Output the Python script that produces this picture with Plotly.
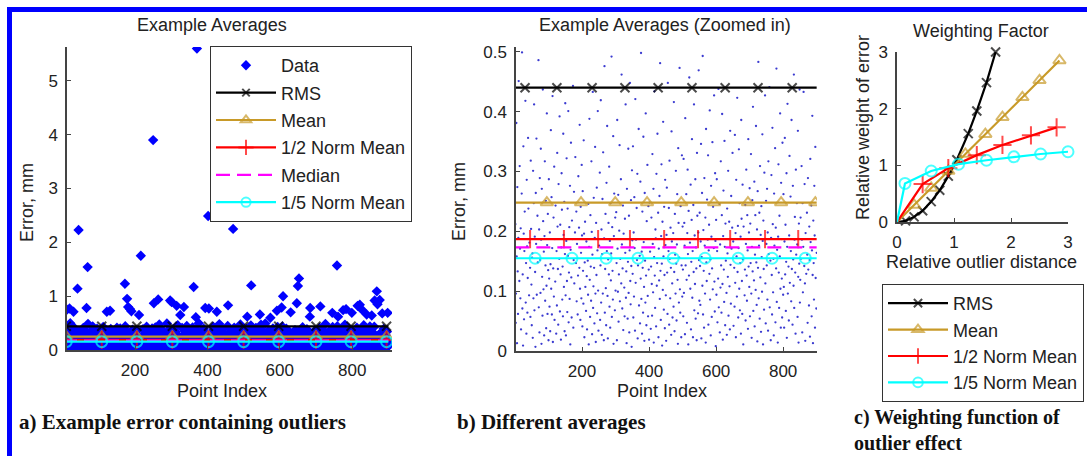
import plotly.graph_objects as go

W, H = 1087, 456

# ---------------- data ----------------
# bulk error values (thousandths of mm) for point index 1..900
err_thousandths = [
212,47,96,381,158,13,274,133,62,189,451,24,117,309,171,88,205,36,142,263,499,71,128,9,342,196,53,167,233,102,418,81,147,29,286,175,64,122,356,238,17,93,181,472,139,57,318,204,111,43,
156,163,22,301,88,247,412,68,191,132,7,264,179,355,94,41,226,148,119,486,73,203,31,289,152,97,338,186,12,271,124,59,437,217,103,166,26,192,317,84,143,251,38,109,397,177,62,229,135,18,
287,121,74,198,33,145,369,104,257,61,172,426,15,138,223,91,308,52,187,116,243,461,29,167,76,331,208,137,44,279,98,154,392,66,211,128,19,173,297,236,86,141,58,363,194,107,249,33,162,414,
93,26,184,322,117,65,238,159,401,48,131,207,87,276,11,169,348,123,56,218,187,97,443,39,152,266,113,71,198,324,24,147,233,83,179,507,61,126,292,14,206,139,378,104,52,241,164,88,311,193,
41,267,134,79,352,196,23,148,216,107,459,67,183,125,36,298,151,94,246,11,174,388,119,57,227,141,84,317,199,28,161,433,72,108,256,139,46,189,341,96,15,214,127,273,63,168,401,101,34,232,
176,111,298,52,143,419,81,203,27,162,254,96,332,131,18,188,476,64,137,229,105,43,281,167,376,92,21,153,214,128,308,74,184,39,247,118,163,492,57,207,134,86,359,12,192,263,146,68,223,101,
63,232,147,18,386,171,99,261,49,128,201,344,83,154,26,287,113,462,178,71,138,243,35,196,319,106,58,221,164,412,89,133,13,271,187,54,149,338,97,226,31,168,448,117,78,252,142,7,302,185,
129,342,56,198,91,257,172,34,421,114,186,67,239,152,296,21,143,103,371,76,208,159,46,283,121,498,87,166,29,233,139,64,358,182,107,17,264,151,81,397,126,43,217,174,311,92,58,242,136,19,
248,82,166,403,37,141,223,112,59,329,179,98,271,14,157,434,126,72,203,188,41,296,109,147,363,66,231,23,171,118,259,87,481,134,52,192,312,146,9,216,102,383,158,69,241,127,38,286,177,93,
17,194,273,131,62,448,108,167,239,44,318,154,88,206,139,27,367,183,113,56,254,197,74,416,132,33,229,161,96,301,146,51,178,262,119,12,339,214,81,156,473,103,64,242,187,23,143,327,91,208,
136,58,321,97,214,176,28,389,143,81,262,119,47,197,303,162,11,234,126,457,73,181,104,278,36,149,219,354,89,167,23,244,132,412,68,193,112,287,54,173,138,18,331,226,101,63,198,469,152,84,
231,142,77,183,346,21,157,264,109,493,61,202,134,39,289,176,96,223,14,371,148,117,253,71,186,327,44,168,211,129,402,86,153,26,276,191,57,138,349,103,241,32,172,427,116,66,297,184,8,219,
94,287,167,48,203,121,438,73,159,246,31,178,106,317,143,64,227,396,112,19,192,268,136,82,351,174,43,213,151,478,97,27,238,163,124,301,59,187,216,108,36,368,144,79,259,171,13,206,331,127,
183,42,256,139,74,361,114,197,23,286,158,91,423,132,209,56,172,337,104,247,68,147,191,29,386,221,117,62,278,153,11,208,164,452,93,136,244,51,179,303,126,84,227,168,37,354,141,198,107,272,
58,213,147,329,96,22,174,252,133,408,67,189,118,283,41,161,227,102,376,148,77,203,16,267,139,483,88,176,231,54,309,123,194,32,242,157,99,362,184,11,218,137,69,298,166,427,113,46,251,179,
143,271,86,198,34,317,162,109,441,73,227,151,18,189,294,127,61,373,212,98,154,26,263,176,117,339,48,206,138,472,82,169,243,14,191,312,131,72,226,158,397,104,39,281,187,121,56,348,173,94,
262,107,39,183,356,128,211,67,149,297,22,174,413,96,236,141,51,193,326,114,17,258,167,83,386,137,201,44,276,153,109,462,72,186,224,131,29,303,161,92,247,178,57,368,124,14,213,146,437,81,
119,223,154,68,309,186,31,247,98,174,433,61,142,279,113,17,197,352,129,83,231,161,47,289,136,504,76,208,152,24,321,182,107,243,58,168,393,127,13,218,147,86,276,193,39,341,122,233,71,164,
]
# outliers (point index, error in mm)
outlier_idx = [371, 250, 402, 44, 471, 216, 69, 758, 653, 650, 172, 362, 521, 41, 868, 609,
               178, 264, 301, 252, 647, 876, 870, 66, 19, 457, 815, 605, 684, 712, 181, 186,
               315, 335, 394, 404, 426, 122, 131, 30, 898, 827, 775, 325, 840, 854, 211, 368,
               592, 745, 783, 761, 799, 821, 883, 683, 12, 862, 190, 297, 574, 510, 545, 630]
outlier_val = [5.6, 3.9, 2.49, 2.23, 2.25, 1.75, 1.54, 1.57, 1.33, 1.19, 1.23, 1.17, 1.2, 1.14, 1.09, 1.0,
               0.95, 0.94, 0.89, 0.87, 0.87, 0.93, 0.85, 0.78, 0.77, 0.83, 0.82, 0.79, 0.78, 0.81, 0.8, 0.76,
               0.82, 0.8, 0.78, 0.77, 0.71, 0.71, 0.73, 0.71, 0.69, 0.75, 0.74, 0.65, 0.66, 0.64, 0.65, 0.61,
               0.73, 0.69, 0.76, 0.62, 0.69, 0.84, 0.68, 0.62, 0.75, 0.92, 0.72, 0.92, 0.6, 0.62, 0.66, 0.7]

point_index = list(range(1, len(err_thousandths) + 1))
err = [v / 1000 for v in err_thousandths]
for i, v in zip(outlier_idx, outlier_val):
    err[i - 1] = v

# average levels (mm)
avg_names = ["RMS", "Mean", "1/2 Norm Mean", "Median", "1/5 Norm Mean"]
avg_values = [0.44, 0.248, 0.187, 0.173, 0.155]
# marker positions (point index)
marker_idx_a = [10, 108, 205, 303, 403, 500, 597, 700, 797, 895]
marker_idx_b = {
    "RMS": [30, 125, 230, 328, 427, 528, 627, 725, 827],
    "Mean": [95, 197, 299, 394, 496, 594, 695, 794, 896],
    "1/2 Norm Mean": [45, 146, 248, 343, 445, 546, 642, 746, 845],
    "Median": [],
    "1/5 Norm Mean": [60, 170, 272, 367, 472, 567, 666, 767, 866],
}
line_start, line_end = 1, 900

# weighting factor curves (relative outlier distance, relative weight)
w_rms_x = [0, 0.15, 0.3, 0.45, 0.6, 0.75, 0.9, 1.05, 1.25, 1.4, 1.57, 1.73]
w_rms_y = [0, 0.02, 0.09, 0.2, 0.36, 0.56, 0.81, 1.1, 1.56, 1.96, 2.46, 3.0]
w_mean_x = [0, 0.3, 0.6, 0.9, 1.2, 1.55, 1.85, 2.2, 2.5, 2.85]
w_mean_y = [0, 0.3, 0.6, 0.9, 1.2, 1.55, 1.85, 2.2, 2.5, 2.85]
w_half_x = [0, 0.45, 0.9, 1.4, 1.85, 2.35, 2.8]
w_half_y = [0, 0.67, 0.95, 1.18, 1.36, 1.53, 1.67]
w_fifth_x = [0, 0.14, 0.6, 1.08, 1.57, 2.05, 2.52, 3.0]
w_fifth_y = [0, 0.68, 0.9, 1.02, 1.09, 1.15, 1.2, 1.24]

# ---------------- styles ----------------
GOLD = "#c89a28"
style = {
    "RMS": dict(color="black", symbol="x-thin", size=9, dash="solid"),
    "Mean": dict(color=GOLD, symbol="triangle-up-open", size=11, dash="solid"),
    "1/2 Norm Mean": dict(color="#ff0000", symbol="cross-thin", size=13, dash="solid"),
    "Median": dict(color="#ff00ff", symbol=None, size=0, dash="14px,7px"),
    "1/5 Norm Mean": dict(color="#00ffff", symbol="circle-open", size=11, dash="solid"),
}
FONT = "Liberation Sans, Arial, sans-serif"
SERIF = "Liberation Serif, Times New Roman, serif"
AX = "#444444"

fig = go.Figure()

# panel a: data
fig.add_trace(go.Scatter(
    x=point_index, y=err, mode="markers", name="Data",
    marker=dict(symbol="diamond", size=8, color="#0000ff", line=dict(width=0)),
    xaxis="x", yaxis="y", legend="legend", legendgroup="aData"))


def avg_trace(name, val, idx, xa, ya, show):
    s = style[name]
    xs = [line_start] + idx + [line_end]
    ys = [val] * len(xs)
    sizes = [0] + [s["size"]] * len(idx) + [0]
    mode = "lines+markers" if s["symbol"] else "lines"
    mk = dict(color=s["color"], size=sizes, line=dict(width=2, color=s["color"]))
    if s["symbol"]:
        mk["symbol"] = s["symbol"]
    return go.Scatter(x=xs, y=ys, mode=mode, name=name, showlegend=show,
                      line=dict(color=s["color"], width=2.2, dash=s["dash"]),
                      marker=mk, xaxis=xa, yaxis=ya, legend="legend",
                      legendgroup="a" + name)


for n, v in zip(avg_names, avg_values):
    fig.add_trace(avg_trace(n, v, marker_idx_a, "x", "y", True))

# panel b: zoomed
fig.add_trace(go.Scatter(
    x=point_index, y=err, mode="markers", name="Data", showlegend=False,
    marker=dict(symbol="circle", size=2.3, color="#3a3ad0", line=dict(width=0)),
    xaxis="x2", yaxis="y2"))
for n, v in zip(avg_names, avg_values):
    fig.add_trace(avg_trace(n, v, marker_idx_b[n], "x2", "y2", False))

# panel c: weighting factor
for n, xs, ys in [("RMS", w_rms_x, w_rms_y), ("Mean", w_mean_x, w_mean_y),
                  ("1/2 Norm Mean", w_half_x, w_half_y), ("1/5 Norm Mean", w_fifth_x, w_fifth_y)]:
    s = style[n]
    sizes = [0] + [s["size"]] * (len(xs) - 1)
    fig.add_trace(go.Scatter(
        x=xs, y=ys, mode="lines+markers", name=n, cliponaxis=False,
        line=dict(color=s["color"], width=2.2),
        marker=dict(symbol=s["symbol"], size=sizes, color=s["color"],
                    line=dict(width=2, color=s["color"])),
        xaxis="x3", yaxis="y3", legend="legend2", legendgroup="c" + n))


def px_x(p):
    return p / W


def px_y(p):
    return 1 - p / H


def axis(domain, rng, tickvals, ticktext=None, anchor=None):
    d = dict(domain=domain, range=rng, tickvals=tickvals, showline=True,
             linecolor=AX, linewidth=1.5, ticks="inside", ticklen=4, tickcolor=AX,
             showgrid=False, zeroline=False, mirror=False, anchor=anchor,
             automargin=False,
             tickfont=dict(family=FONT, size=17, color="#222"), ticklabelstandoff=4)
    if ticktext is not None:
        d["ticktext"] = ticktext
    return d


fig.update_layout(
    width=W, height=H, margin=dict(l=0, r=0, t=0, b=0, pad=0, autoexpand=False),
    paper_bgcolor="white", plot_bgcolor="white",
    font=dict(family=FONT, size=18, color="#222"),
    xaxis=axis([px_x(67), px_x(392)], [12, 910], [200, 400, 600, 800], anchor="y"),
    yaxis=axis([px_y(350), px_y(47)], [0, 5.63], [0, 1, 2, 3, 4, 5], anchor="x"),
    xaxis2=axis([px_x(516), px_x(817)], [3, 901], [200, 400, 600, 800], anchor="y2"),
    yaxis2=axis([px_y(351), px_y(47)], [0, 0.508], [0, 0.1, 0.2, 0.3, 0.4, 0.5],
                ["0", "0.1", "0.2", "0.3", "0.4", "0.5"], anchor="x2"),
    xaxis3=axis([px_x(897), px_x(1068)], [0, 3], [0, 1, 2, 3], anchor="y3"),
    yaxis3=axis([px_y(222), px_y(52)], [0, 3], [0, 1, 2, 3], anchor="x3"),
    legend=dict(x=px_x(210), y=px_y(46), xanchor="left", yanchor="top",
                bgcolor="white", bordercolor="#333", borderwidth=1,
                font=dict(family=FONT, size=18, color="#222"),
                traceorder="grouped", tracegroupgap=1, itemwidth=60),
    legend2=dict(x=px_x(882), y=px_y(284), xanchor="left", yanchor="top",
                 bgcolor="white", bordercolor="#333", borderwidth=1,
                 font=dict(family=FONT, size=18, color="#222"),
                 traceorder="grouped", tracegroupgap=0, itemwidth=60),
    showlegend=True,
)

# frame
fig.add_shape(type="rect", xref="paper", yref="paper",
              x0=px_x(9.5), x1=px_x(1100), y0=px_y(470), y1=px_y(9.5),
              line=dict(color="#0000ff", width=5), fillcolor="rgba(0,0,0,0)", layer="above")

ann = []


def text(x, y, s, size=18, angle=0, family=FONT, bold=False, xanchor="center", yanchor="middle"):
    ann.append(dict(x=px_x(x), y=px_y(y), xref="paper", yref="paper", text=("<b>%s</b>" % s) if bold else s,
                    showarrow=False, textangle=angle, xanchor=xanchor, yanchor=yanchor, align="left",
                    font=dict(family=family, size=size, color="#111" if bold else "#222")))


text(212, 25, "Example Averages")
text(665, 25, "Example Averages (Zoomed in)")
text(981, 31, "Weighting Factor")
text(27, 203, "Error, mm", angle=-90)
text(459, 202, "Error, mm", angle=-90)
text(863, 128, "Relative weight of error", angle=-90)
text(222, 391, "Point Index")
text(662, 391, "Point Index")
text(981, 262, "Relative outlier distance")
text(17, 422, "a) Example error containing outliers", size=21, family=SERIF, bold=True, xanchor="left")
text(455, 422, "b) Different averages", size=21, family=SERIF, bold=True, xanchor="left")
text(852, 456, "c) Weighting function of<br>outlier effect", size=20, family=SERIF, bold=True,
     xanchor="left", yanchor="bottom")
fig.update_layout(annotations=ann)

fig.write_html("out.html")
